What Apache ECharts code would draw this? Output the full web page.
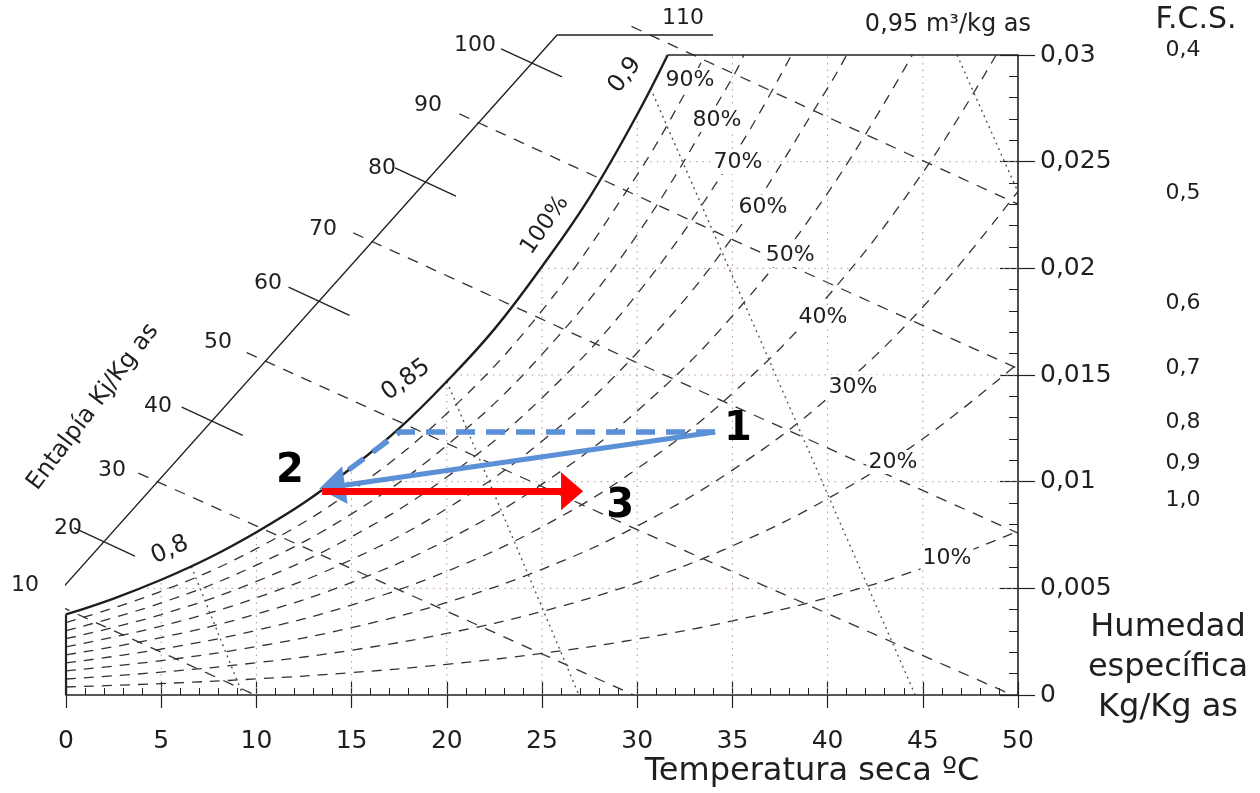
<!DOCTYPE html>
<html><head><meta charset="utf-8">
<script src="https://cdn.jsdelivr.net/npm/echarts@6/dist/echarts.min.js"></script>
<style>html,body{margin:0;padding:0;background:#fff}#c{width:1260px;height:793px}</style>
</head><body><div id="c"></div>
<script>
// ---------- data (T in degC, w in kg/kg dry air) ----------
const yTickLabels = ['0','0,005','0,01','0,015','0,02','0,025','0,03'];

const saturation = [[0,0.003775],[2.5,0.004522],[5,0.005403],[7.5,0.006423],[10,0.007632],[12.5,0.009009],[15,0.010650],[17.5,0.012496],[20,0.014699],[22.5,0.017150],[25,0.020087],[27.5,0.023329],[30,0.027211],[31.6,0.03]];

const rh90 = [[0,0.003396],[5,0.004859],[10,0.006860],[15,0.009569],[20,0.013198],[25,0.018020],[30,0.024383],[32.5,0.028190],[33.55,0.03]];
const rh80 = [[0,0.003017],[5,0.004315],[10,0.006091],[15,0.008491],[20,0.011704],[25,0.015966],[30,0.021580],[35,0.028929],[35.6,0.03]];
const rh70 = [[0,0.002638],[5,0.003772],[10,0.005323],[15,0.007417],[20,0.010217],[25,0.013926],[30,0.018801],[35,0.025167],[38.1,0.03]];
const rh60 = [[0,0.002260],[5,0.003231],[10,0.004557],[15,0.006347],[20,0.008737],[25,0.011898],[30,0.016046],[35,0.021448],[40,0.028444],[41.0,0.03]];
const rh50 = [[0,0.001882],[5,0.002690],[10,0.003793],[15,0.005280],[20,0.007264],[25,0.009884],[30,0.013314],[35,0.017771],[40,0.023524],[44.45,0.03]];
const rh40 = [[0,0.001505],[5,0.002150],[10,0.003031],[15,0.004217],[20,0.005797],[25,0.007882],[30,0.010606],[35,0.014136],[40,0.018678],[45,0.024488],[48.85,0.03]];
const rh30 = [[0,0.001128],[5,0.001611],[10,0.002270],[15,0.003157],[20,0.004338],[25,0.005893],[30,0.007921],[35,0.010542],[40,0.013904],[45,0.018187],[50,0.023611]];
const rh20 = [[0,0.000751],[5,0.001073],[10,0.001512],[15,0.002101],[20,0.002885],[25,0.003916],[30,0.005258],[35,0.006989],[40,0.009201],[45,0.012008],[50,0.015544]];
const rh10 = [[0,0.000375],[5,0.000536],[10,0.000755],[15,0.001049],[20,0.001439],[25,0.001952],[30,0.002618],[35,0.003475],[40,0.004567],[45,0.005946],[50,0.007676]];
const rhCurves = [rh90, rh80, rh70, rh60, rh50, rh40, rh30, rh20, rh10];

const rhLabels = ['90%','80%','70%','60%','50%','40%','30%','20%','10%'];
const rhLabelAt = [[32.77,0.02883],[34.19,0.02695],[35.29,0.02498],[36.61,0.02288],[38.03,0.02063],[39.76,0.01772],[41.33,0.01444],[43.43,0.01092],[46.27,0.00642]];
const satLabel = '100%';
const satLabelAt = [25.16,0.02203];

// enthalpy scale (oblique + top part)
const enthalpyScale = [[-0.84,0.00436],[25.79,0.03094],[33.98,0.03094]];
// full enthalpy lines (10, 30, ... 110 kJ/kg)
const h10 = [[-1.3,0.00456],[9.94,0]];
const h30 = [[3.8,0.0104],[29.82,0]];
const h50 = [[9.49,0.01605],[30,0.00775],[49.7,0]];
const h70 = [[15.09,0.02166],[30,0.01557],[50,0.00759]];
const h90 = [[20.66,0.02724],[35,0.02135],[50,0.01530]];
const h110 = [[29.7,0.03134],[40,0.02709],[50,0.02301]];
const enthalpyLines = [h10, h30, h50, h70, h90, h110];
// short tick marks (20, 40, 60, 80, 100)
const enthalpyTicks = [
  [[0.42,0.00783],[3.62,0.00651]],
  [[6.08,0.01349],[9.28,0.01217]],
  [[11.69,0.01912],[14.89,0.01780]],
  [[17.28,0.02471],[20.48,0.02339]],
  [[22.85,0.03029],[26.05,0.02897]]
];
const enthalpyLabels = ['10','20','30','40','50','60','70','80','90','100','110'];
const enthalpyLabelAt = [[-2.15,0.00516],[0.105,0.00783],[2.42,0.01055],[4.83,0.01355],[7.98,0.01655],[10.61,0.01931],[13.50,0.02184],[16.60,0.0247],[19.01,0.02766],[21.48,0.03047],[32.41,0.03173]];
const enthalpyTitle = 'Entalpía Kj/Kg as';
const enthalpyTitleAt = [1.42,0.0135];

// specific volume lines (m3/kg)
const v080 = [[6.58,0.00603],[9.29,0]];
const v085 = [[20.0,0.0147],[26.94,0]];
const v090 = [[30.7,0.02844],[44.6,0]];
const v095 = [[46.8,0.03],[50,0.02358]];
const volumeLines = [v080, v085, v090, v095];
const volumeLabels = ['0,8','0,85','0,9','0,95 m³/kg as'];
const volumeLabelAt = [[5.46,0.0068],[17.86,0.01477],[29.36,0.02906],[46.32,0.03141]];
const volumeLabelAngles = [24, 36, 52, 0];

// dotted dry-bulb / humidity grid (clipped at saturation)
const dryBulbGrid = [[5,0.005403],[10,0.007632],[15,0.010650],[20,0.014699],[25,0.020087],[30,0.027211],[35,0.03],[40,0.03],[45,0.03]];
const humidityGrid = [[3.91,0.005],[14.08,0.01],[20.37,0.015],[24.98,0.02],[28.64,0.025]];

// F.C.S. (sensible heat factor) scale
const fcsAxis = [[56.04,0.03070],[56.04,0.009235]];
const fcsTicks = [
  [[55.20,0.029297],[57.09,0.030375]],
  [[55.25,0.022782],[56.93,0.023438]],
  [[55.51,0.018000],[56.93,0.018375]],
  [[55.72,0.015000],[57.04,0.015281]],
  [[55.62,0.012656],[56.93,0.012797]],
  [[55.62,0.010641],[56.78,0.010734]],
  [[55.72,0.009235],[56.67,0.009235]]
];
const fcsLabels = ['0,4','0,5','0,6','0,7','0,8','0,9','1,0'];
const fcsLabelAt = [[57.72,0.030234],[57.72,0.023532],[57.72,0.018375],[57.72,0.015328],[57.72,0.012797],[57.72,0.010875],[57.72,0.009141]];

// process 1 -> 2 -> 3
const point1 = [34.09,0.01233];
const dewCorner = [17.54,0.01233];
const dashedEnd = [14.55,0.01036];
const arrow2 = [13.97,0.00975];
const redStart = [13.45,0.00955];
const arrow3 = [26.58,0.00955];
const pointLabels = ['1','2','3'];
const pointLabelAt = [[35.29,0.01242],[11.76,0.01045],[29.1,0.00881]];

// ---------- chart ----------
const FONT = 'DejaVu Sans';
const INK = '#1f1f1f';
const series = [];
function seg(data, style, extra) {
  series.push(Object.assign({type:'line', data:data, symbol:'none', clip:false, silent:true,
    animation:false, lineStyle:style}, extra || {}));
}
// gridlines
const gridStyle = {color:'#b8909a', width:1, type:[1.5,5]};
dryBulbGrid.forEach(p => seg([[p[0],0],p], gridStyle, {z:1}));
humidityGrid.forEach(p => seg([p,[50,p[1]]], gridStyle, {z:1}));
// RH curves
rhCurves.forEach(c => seg(c, {color:'#333', width:1.3, type:[10,8]}, {smooth:0.4, z:2}));
// enthalpy
enthalpyLines.forEach(c => seg(c, {color:'#333', width:1.3, type:[11,9]}, {z:2}));
enthalpyTicks.forEach(c => seg(c, {color:'#222', width:1.4}, {z:3}));
seg(enthalpyScale, {color:'#222', width:1.4}, {z:3});
// volume lines
volumeLines.forEach(c => seg(c, {color:'#555', width:1.4, type:[2,4]}, {z:2}));
// saturation and borders
seg(saturation, {color:'#1e1e1e', width:2.4}, {smooth:0.4, z:4});
seg([[31.6,0.03],[50,0.03]], {color:'#222', width:1.5}, {z:4});
seg([[0,0],[0,0.003775]], {color:'#222', width:2.2}, {z:4});
// FCS scale
seg(fcsAxis, {color:'#222', width:1.4}, {z:3});
fcsTicks.forEach(c => seg(c, {color:'#222', width:1.4}, {z:3}));

// labels
function labels(texts, anchors, opts, angles) {
  series.push({type:'scatter', clip:false, silent:true, animation:false, symbolSize:1, z:6,
    itemStyle:{color:'rgba(255,255,255,0)', opacity:1},
    label:Object.assign({show:true, position:'inside', formatter:'{b}', color:INK, opacity:1, fontFamily:FONT, fontSize:22}, opts),
    data: texts.map((t,i) => {
      const d = {name:t, value:anchors[i]};
      if (angles) d.label = {rotate: angles[i]};
      return d;
    })});
}
labels(rhLabels, rhLabelAt, {fontSize:22, backgroundColor:'#fff', padding:[1,2]});
labels([satLabel], [satLabelAt], {fontSize:23}, [55]);
labels(enthalpyLabels, enthalpyLabelAt, {fontSize:22});
labels([enthalpyTitle], [enthalpyTitleAt], {fontSize:24}, [53]);
labels(volumeLabels, volumeLabelAt, {fontSize:24}, volumeLabelAngles);
labels(fcsLabels, fcsLabelAt, {fontSize:22, position:'right', distance:0});
labels(pointLabels, pointLabelAt, {fontSize:40, fontWeight:'bold', color:'#000'});

// process lines
const BLUE = '#5b8fd6';
seg([point1, dewCorner, dashedEnd], {color:BLUE, width:5.5, type:[19,11]}, {z:8});
series.push({type:'line', data:[], silent:true, animation:false, z:9,
  markLine:{silent:true, animation:false, symbol:['none','triangle'], symbolSize:[38,26], label:{show:false},
    lineStyle:{color:BLUE, width:5, type:'solid'},
    data:[[{coord:point1},{coord:arrow2}]]}});
series.push({type:'line', data:[], silent:true, animation:false, z:10,
  markLine:{silent:true, animation:false, symbol:['none','triangle'], symbolSize:[38,22], label:{show:false},
    lineStyle:{color:'#ff0000', width:7, type:'solid'},
    data:[[{coord:redStart},{coord:arrow3}]]}});

const axisBase = {type:'value', splitLine:{show:false}};
const option = {
  animation:false,
  backgroundColor:'#fff',
  grid:{left:66, right:242, top:55, bottom:98, containLabel:false, outerBoundsMode:'none'},
  xAxis:[
    Object.assign({}, axisBase, {min:0, max:50, interval:5, position:'bottom',
      axisLine:{show:true, onZero:false, lineStyle:{color:'#222', width:1.6}},
      axisTick:{show:true, inside:true, length:13, lineStyle:{color:'#222', width:1.2}},
      minorTick:{show:true, splitNumber:5, length:7, lineStyle:{color:'#222', width:1}},
      axisLabel:{show:false}}),
    Object.assign({}, axisBase, {min:0, max:50, interval:5, position:'bottom',
      axisLine:{show:false, onZero:false},
      axisTick:{show:true, inside:false, length:13, lineStyle:{color:'#222', width:1.2}},
      axisLabel:{show:true, margin:34, color:INK, fontFamily:FONT, fontSize:25}})
  ],
  yAxis:[
    Object.assign({}, axisBase, {min:0, max:0.03, interval:0.005, position:'right',
      axisLine:{show:true, onZero:false, lineStyle:{color:'#222', width:1.6}},
      axisTick:{show:true, inside:true, length:18, lineStyle:{color:'#222', width:1.2}},
      minorTick:{show:true, splitNumber:5, length:9, lineStyle:{color:'#222', width:1}},
      axisLabel:{show:false}}),
    Object.assign({}, axisBase, {min:0, max:0.03, interval:0.005, position:'right',
      axisLine:{show:false, onZero:false},
      axisTick:{show:true, inside:false, length:17, lineStyle:{color:'#222', width:1.2}},
      axisLabel:{show:true, margin:22, color:INK, fontFamily:FONT, fontSize:25,
        formatter: v => yTickLabels[Math.round(v/0.005)]}})
  ],
  graphic:[
    {type:'text', x:812, y:772, silent:true, style:{text:'Temperatura seca ºC', font:'32px "DejaVu Sans"', fill:INK, textAlign:'center', textVerticalAlign:'middle'}},
    {type:'text', x:1168, y:668, silent:true, style:{text:'Humedad\nespecífica\nKg/Kg as', font:'32px "DejaVu Sans"', lineHeight:40, fill:INK, textAlign:'center', textVerticalAlign:'middle'}},
    {type:'text', x:1196, y:20, silent:true, style:{text:'F.C.S.', font:'30px "DejaVu Sans"', fill:INK, textAlign:'center', textVerticalAlign:'middle'}}
  ],
  series: series
};
const chart = echarts.init(document.getElementById('c'), null, {renderer:'canvas'});
chart.setOption(option);
</script>
</body></html>
